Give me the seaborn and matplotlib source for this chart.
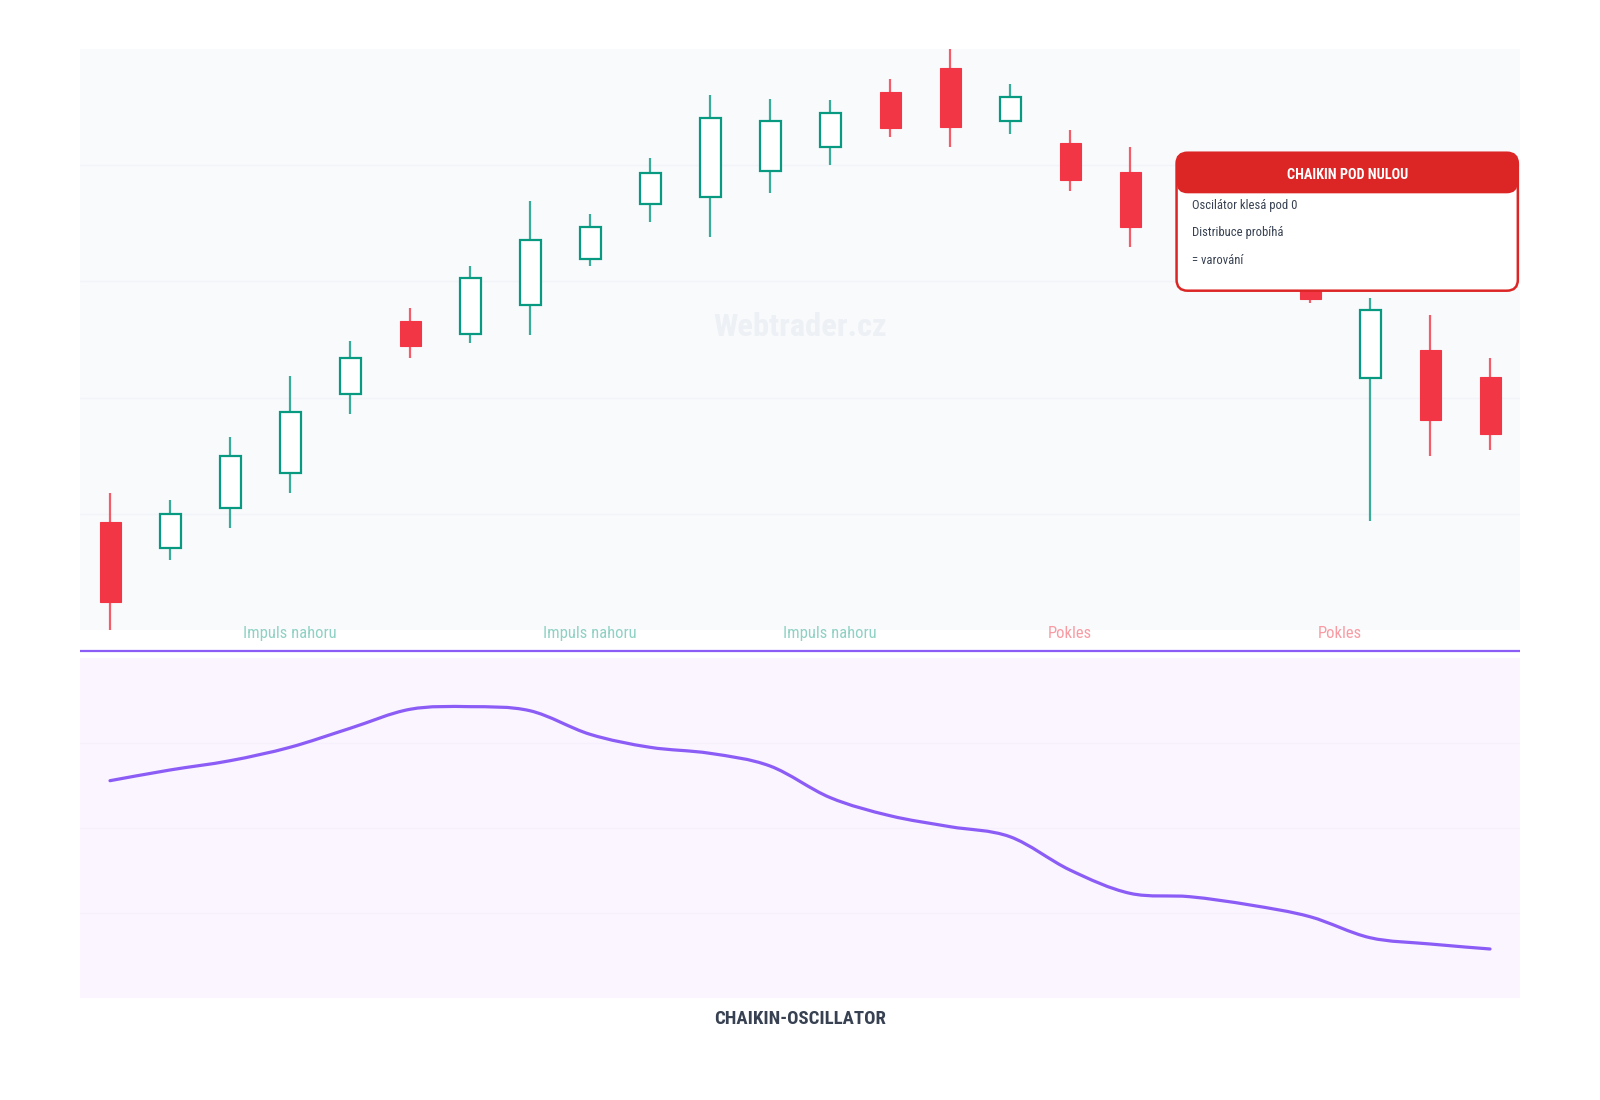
import numpy as np
import pandas as pd
import matplotlib
matplotlib.use("Agg")
import matplotlib.pyplot as plt
import seaborn as sns
from matplotlib import font_manager as fm
from matplotlib.patches import FancyBboxPatch, PathPatch
from matplotlib.path import Path

# ---------------- data ----------------
days = list(range(24))
opens = [109.3, 107.1, 110.5, 113.5, 120.3, 126.6, 125.5, 128.0, 131.9, 136.7, 137.3, 139.5,
         141.6, 146.3, 148.4, 143.8, 141.9, 139.4, 134.5, 132.5, 131.0, 121.7, 124.1, 121.8]
highs = [111.8, 111.2, 116.6, 121.9, 124.9, 127.7, 131.3, 136.9, 135.8, 140.6, 146.0, 145.7,
         145.6, 147.4, 150.0, 147.0, 143.0, 141.6, 136.0, 133.5, 131.8, 128.6, 127.1, 123.4]
lows = [100.0, 106.0, 108.8, 111.8, 118.6, 123.4, 124.7, 125.4, 131.3, 135.1, 133.8, 137.6,
        140.0, 142.4, 141.6, 142.7, 137.8, 133.0, 131.0, 130.0, 128.1, 109.4, 115.0, 115.5]
closes = [102.4, 110.0, 115.0, 118.8, 123.4, 124.4, 130.3, 133.6, 134.7, 139.3, 144.1, 143.8,
          144.5, 143.2, 143.3, 145.9, 138.7, 134.7, 132.0, 131.0, 128.5, 127.5, 118.1, 116.9]
chaikin = [553, 679, 788, 946, 1169, 1393, 1424, 1376, 1099, 946, 875, 726,
           355, 141, 12, -106, -498, -772, -812, -909, -1047, -1294, -1368, -1427]

label_texts = ["Impuls nahoru", "Impuls nahoru", "Impuls nahoru", "Pokles", "Pokles"]
label_x = [3, 8, 12, 16, 20.5]
label_up = [True, True, True, False, False]

box_title = "CHAIKIN POD NULOU"
box_lines = ["Oscilátor klesá pod 0", "Distribuce probíhá", "= varování"]
osc_title = "CHAIKIN-OSCILLATOR"
watermark = "Webtrader.cz"

# ---------------- style ----------------
GREEN = "#089981"
RED = "#f23645"
HEADER_RED = "#dc2626"
PURPLE = "#8b5cf6"
TEXT_DARK = "#374151"
GREEN_LBL = "#8fd1c4"
RED_LBL = "#f89ba3"

sns.set_theme(style="white")
names = {f.name for f in fm.fontManager.ttflist}
family = "DejaVu Sans"
for cand in ["Roboto Condensed", "Liberation Sans Narrow", "Open Sans Condensed", "DejaVu Sans"]:
    if cand in names:
        family = cand
        break
plt.rcParams["font.family"] = [family, "DejaVu Sans"]

df = pd.DataFrame({"day": days, "open": opens, "high": highs, "low": lows,
                   "close": closes, "chaikin": chaikin})
df["up"] = df["close"] >= df["open"]

AX_L, AX_W = 0.05, 0.900
fig = plt.figure(figsize=(16, 11), dpi=100)
fig.patch.set_facecolor("white")
ax1 = fig.add_axes([AX_L, 0.42727, AX_W, 0.52818])
ax2 = fig.add_axes([AX_L, 0.09300, AX_W, 0.30909])

# ---------------- price panel ----------------
ax1.set_facecolor("#f8fafc")
ax1.set_xlim(-0.5, 23.5)
ax1.set_ylim(100, 150)
ax1.set_yticks([110, 120, 130, 140])
ax1.grid(axis="y", color="#f2f4f7", linewidth=1.0)
ax1.grid(axis="x", visible=False)
ax1.set_xticks([])
ax1.tick_params(left=False, labelleft=False)
for s in ax1.spines.values():
    s.set_visible(False)

bw = 0.35
for _, r in df.iterrows():
    col = GREEN if r["up"] else RED
    ax1.vlines(r["day"], r["low"], r["high"], color=col, linewidth=1.6, alpha=0.8, zorder=2)
    lo = min(r["open"], r["close"])
    h = abs(r["close"] - r["open"])
    if r["up"]:
        ax1.bar(r["day"], h, bottom=lo, width=bw, facecolor="white", edgecolor=col,
                linewidth=1.6, zorder=3)
    else:
        ax1.bar(r["day"], h, bottom=lo, width=bw, facecolor=col, edgecolor=col,
                linewidth=0.8, zorder=3)

wm = ax1.text(0.5, 0.522, watermark, transform=ax1.transAxes, ha="center", va="center",
              fontsize=24, fontweight="bold", color="#edf0f4", zorder=1)

# labels under price panel
xt = ax1.get_xaxis_transform()
lbls = []
for t, x, up in zip(label_texts, label_x, label_up):
    lbls.append(ax1.text(x, -0.006, t, transform=xt, ha="center", va="center",
                         fontsize=13, color=GREEN_LBL if up else RED_LBL,
                         clip_on=False, zorder=4))

# separator line
ax1.plot([0, 1], [-0.0361, -0.0361], transform=ax1.transAxes, color=PURPLE,
         linewidth=1.6, clip_on=False, solid_capstyle="butt")

# annotation box
bx0, bx1, by0, by1 = 0.7615, 0.9985, 0.584, 0.8215
hy0 = 0.7516
ax_px_w = AX_W * 1600
asp = ax_px_w / (0.52818 * 1100)
rr = 11 / ax_px_w
body = FancyBboxPatch((bx0, by0), bx1 - bx0, by1 - by0,
                      boxstyle=f"round,pad=0,rounding_size={rr}", mutation_aspect=asp,
                      transform=ax1.transAxes, facecolor="white", edgecolor="none",
                      zorder=6, clip_on=False)
header = FancyBboxPatch((bx0, hy0), bx1 - bx0, by1 - hy0,
                        boxstyle=f"round,pad=0,rounding_size={rr}", mutation_aspect=asp,
                        transform=ax1.transAxes, facecolor=HEADER_RED, edgecolor="none",
                        zorder=7, clip_on=False)
border = FancyBboxPatch((bx0, by0), bx1 - bx0, by1 - by0,
                        boxstyle=f"round,pad=0,rounding_size={rr}", mutation_aspect=asp,
                        transform=ax1.transAxes, facecolor="none", edgecolor=HEADER_RED,
                        linewidth=1.8, zorder=8, clip_on=False)
for p in (body, header, border):
    ax1.add_patch(p)

bt = ax1.text((bx0 + bx1) / 2, 0.783, box_title, transform=ax1.transAxes, ha="center",
              va="center", fontsize=11, fontweight="bold", color="white", zorder=9)
line_y = [0.7315, 0.6838, 0.6356]
bl = []
for t, y in zip(box_lines, line_y):
    bl.append(ax1.text(bx0 + 0.0105, y, t, transform=ax1.transAxes, ha="left", va="center",
                       fontsize=10, color=TEXT_DARK, zorder=9))

# ---------------- oscillator panel ----------------
ax2.set_facecolor("#faf5ff")
sns.lineplot(data=df, x="day", y="chaikin", ax=ax2, color=PURPLE, linewidth=2.3)
# render the seaborn line as a smooth spline (same data points, Bezier joins)
ln = ax2.get_lines()[-1]
pts = np.column_stack(ln.get_data()).astype(float)
ln.set_visible(False)
n = len(pts)
verts = [pts[0]]
codes = [Path.MOVETO]
for i in range(n - 1):
    p0 = pts[max(i - 1, 0)]
    p1 = pts[i]
    p2 = pts[i + 1]
    p3 = pts[min(i + 2, n - 1)]
    verts += [p1 + (p2 - p0) / 6.0, p2 - (p3 - p1) / 6.0, p2]
    codes += [Path.CURVE4, Path.CURVE4, Path.CURVE4]
ax2.add_patch(PathPatch(Path(verts, codes), facecolor="none", edgecolor=PURPLE,
                        linewidth=2.3, capstyle="round", joinstyle="round", zorder=3,
                        transform=ax2.transData))

ax2.set_xlim(-0.5, 23.5)
ax2.set_ylim(-2000, 2000)
ax2.set_yticks([-1000, 0, 1000])
ax2.grid(axis="y", color="#f6f0fc", linewidth=1.0)
ax2.grid(axis="x", visible=False)
ax2.set_xticks([])
ax2.set_xlabel("")
ax2.set_ylabel("")
ax2.tick_params(left=False, labelleft=False)
for s in ax2.spines.values():
    s.set_visible(False)

ot = ax2.text(0.5, -0.0626, osc_title, transform=ax2.transAxes, ha="center", va="center",
              fontsize=14, fontweight="bold", color=TEXT_DARK, clip_on=False)

# ---------------- fit text widths to reference ----------------
def fit_width(texts, target_px):
    fig.canvas.draw()
    rend = fig.canvas.get_renderer()
    w = texts[0].get_window_extent(rend).width
    k = target_px / w
    for t in texts:
        t.set_fontsize(t.get_fontsize() * k)

fit_width(lbls, 93)
fit_width([wm], 174)
fit_width([ot], 171)
fit_width([bt], 121)
fit_width(bl, 105)

fig.savefig("out.png", dpi=100, facecolor="white")
